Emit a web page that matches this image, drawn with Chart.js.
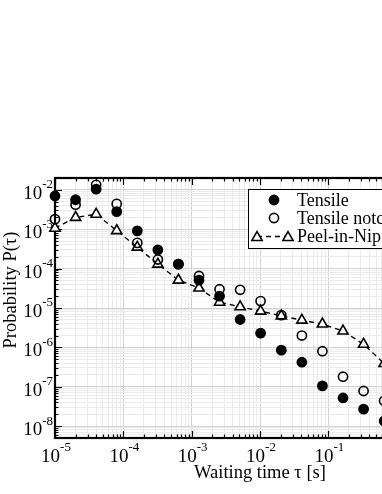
<!DOCTYPE html>
<html>
<head>
<meta charset="utf-8">
<script src="https://cdn.jsdelivr.net/npm/chart.js@4.4.0/dist/chart.umd.min.js"></script>
<style>
  html, body { margin: 0; padding: 0; overflow: hidden; background: #fff; width: 382px; height: 494px; }
  canvas { display: block; }
</style>
</head>
<body>
<canvas id="chart" width="480" height="494"></canvas>
<script>
// waiting time tau [s]
const waitingTimes = [1e-5, 2e-5, 4e-5, 8e-5, 1.6e-4, 3.2e-4, 6.4e-4, 1.28e-3, 2.56e-3, 5.12e-3, 1.02e-2, 2.05e-2, 4.1e-2, 8.19e-2, 0.164, 0.328, 0.655];
// probability P(tau)
const tensile = [7.0e-3, 5.6e-3, 1.04e-2, 2.8e-3, 9.1e-4, 3.0e-4, 1.3e-4, 5.1e-5, 2.0e-5, 5.1e-6, 2.3e-6, 8.5e-7, 4.2e-7, 1.05e-7, 5.2e-8, 2.7e-8, 1.35e-8];
const tensileNotched = [1.8e-3, 4.2e-3, 1.34e-2, 4.4e-3, 4.5e-4, 1.7e-4, 1.3e-4, 6.5e-5, 3.0e-5, 2.9e-5, 1.5e-5, 6.6e-6, 2.0e-6, 8.0e-7, 1.8e-7, 7.8e-8, 4.4e-8];
const peelInNip = [1.06e-3, 2.0e-3, 2.4e-3, 9.2e-4, 3.5e-4, 1.3e-4, 5.1e-5, 3.2e-5, 1.4e-5, 1.07e-5, 8.3e-6, 6.3e-6, 4.9e-6, 3.9e-6, 2.6e-6, 1.2e-6, 3.9e-7];
const seriesLabels = ['Tensile', 'Tensile notched', 'Peel-in-Nip'];
const xTickExponents = [-5, -4, -3, -2, -1, 0, 1];
const yTickExponents = [-8, -7, -6, -5, -4, -3, -2];

const FONT = '"Liberation Serif", "Times New Roman", serif';

const toPoints = (ys) => waitingTimes.map((t, i) => ({ x: t, y: ys[i] }));

const isDecade = (v) => {
  const l = Math.log10(v);
  return Math.abs(l - Math.round(l)) < 1e-6;
};

// 1..9 x 10^e between min and max, used for grid lines and minor ticks
function logTicks(scale) {
  const out = [];
  const lo = Math.floor(Math.log10(scale.min));
  const hi = Math.ceil(Math.log10(scale.max));
  for (let e = lo; e <= hi; e++) {
    for (let m = 1; m <= 9; m++) {
      const v = m * Math.pow(10, e);
      if (v >= scale.min * 0.999 && v <= scale.max * 1.001) out.push({ value: v });
    }
  }
  scale.ticks = out;
}

function gridColor(c) {
  if (!c.tick) return '#eeeeee';
  return isDecade(c.tick.value) ? '#d2d2d2' : '#ebebeb';
}

function drawPow(ctx, exp, x, y, align) {
  const base = '10';
  const supText = exp < 0 ? '-' + Math.abs(exp) : String(exp);
  ctx.font = '19px ' + FONT;
  const wb = ctx.measureText(base).width;
  ctx.font = '13px ' + FONT;
  const ws = ctx.measureText(supText).width;
  const left = align === 'right' ? x - wb - ws : x - (wb + ws) / 2;
  ctx.textAlign = 'left';
  ctx.textBaseline = 'middle';
  ctx.font = '19px ' + FONT;
  ctx.fillText(base, left, y + 4);
  ctx.font = '13px ' + FONT;
  ctx.fillText(supText, left + wb, y - 5);
}

function drawTri(ctx, x, y, r) {
  ctx.beginPath();
  for (let k = 0; k < 3; k++) {
    const a = k * 2 * Math.PI / 3;
    const px = x + Math.sin(a) * r, py = y - Math.cos(a) * r;
    if (k === 0) ctx.moveTo(px, py); else ctx.lineTo(px, py);
  }
  ctx.closePath();
  ctx.fill();
  ctx.stroke();
}

const frame = {
  id: 'frame',
  beforeDatasetsDraw(chart) {
    const { ctx, chartArea: a, scales: { x, y } } = chart;
    ctx.save();
    ctx.strokeStyle = '#000';
    ctx.lineWidth = 1.2;
    ctx.beginPath();
    x.ticks.forEach(t => {
      const px = Math.round(x.getPixelForValue(t.value)) + 0.5;
      const len = isDecade(t.value) ? 7 : 3.5;
      ctx.moveTo(px, a.bottom); ctx.lineTo(px, a.bottom - len);
      ctx.moveTo(px, a.top); ctx.lineTo(px, a.top + len);
    });
    y.ticks.forEach(t => {
      const py = Math.round(y.getPixelForValue(t.value)) + 0.5;
      const len = isDecade(t.value) ? 7 : 3.5;
      ctx.moveTo(a.left, py); ctx.lineTo(a.left + len, py);
      ctx.moveTo(a.right, py); ctx.lineTo(a.right - len, py);
    });
    ctx.stroke();
    ctx.lineWidth = 2.2;
    ctx.strokeRect(a.left, a.top, a.right - a.left, a.bottom - a.top);
    ctx.restore();
  },
  afterDraw(chart) {
    const { ctx, chartArea: a, scales: { x, y } } = chart;
    ctx.save();
    ctx.fillStyle = '#000';
    xTickExponents.forEach(e => {
      drawPow(ctx, e, x.getPixelForValue(Math.pow(10, e)) + 1, a.bottom + 15, 'center');
    });
    yTickExponents.forEach(e => {
      drawPow(ctx, e, a.left - 2, y.getPixelForValue(Math.pow(10, e)), 'right');
    });

    // axis titles
    ctx.font = '18.5px ' + FONT;
    ctx.textAlign = 'center';
    ctx.textBaseline = 'middle';
    ctx.fillText('Waiting time \u03c4 [s]', (a.left + a.right) / 2, 473);
    ctx.save();
    ctx.translate(11, 290);
    ctx.rotate(-Math.PI / 2);
    ctx.fillText('Probability P(\u03c4)', 0, 0);
    ctx.restore();

    // legend box inside the plot
    const bx = 248, by = 189, bw = 210, bh = 59;
    ctx.fillStyle = '#fff';
    ctx.fillRect(bx, by, bw, bh);
    ctx.strokeStyle = '#000';
    ctx.lineWidth = 1;
    ctx.strokeRect(bx + 0.5, by + 0.5, bw, bh);
    const rows = [200, 218, 236.5];
    ctx.lineWidth = 1.6;
    ctx.fillStyle = '#000';
    ctx.beginPath(); ctx.arc(274, rows[0], 4.6, 0, Math.PI * 2); ctx.fill(); ctx.stroke();
    ctx.beginPath(); ctx.arc(274, rows[1], 4.6, 0, Math.PI * 2); ctx.stroke();
    ctx.setLineDash([5, 4]);
    ctx.beginPath(); ctx.moveTo(257, rows[2]); ctx.lineTo(288, rows[2]); ctx.stroke();
    ctx.setLineDash([]);
    ctx.fillStyle = '#fff';
    drawTri(ctx, 257, rows[2] + 1, 5.9);
    drawTri(ctx, 288, rows[2] + 1, 5.9);
    ctx.fillStyle = '#000';
    ctx.font = '18px ' + FONT;
    ctx.textAlign = 'left';
    ctx.textBaseline = 'middle';
    seriesLabels.forEach((s, i) => ctx.fillText(s, 297, rows[i] + 1));
    ctx.restore();
  }
};

new Chart(document.getElementById('chart'), {
  type: 'scatter',
  data: {
    datasets: [
      {
        label: seriesLabels[0],
        data: toPoints(tensile),
        pointStyle: 'circle',
        pointRadius: 4.6,
        pointBackgroundColor: '#000',
        pointBorderColor: '#000',
        pointBorderWidth: 1.6,
        showLine: false,
        clip: false
      },
      {
        label: seriesLabels[1],
        data: toPoints(tensileNotched),
        pointStyle: 'circle',
        pointRadius: 4.6,
        pointBackgroundColor: 'rgba(0,0,0,0)',
        pointBorderColor: '#000',
        pointBorderWidth: 1.6,
        showLine: false,
        clip: false
      },
      {
        label: seriesLabels[2],
        data: toPoints(peelInNip),
        pointStyle: 'triangle',
        pointRadius: 5.9,
        pointBackgroundColor: '#fff',
        pointBorderColor: '#000',
        pointBorderWidth: 1.6,
        showLine: true,
        borderColor: '#000',
        borderWidth: 1.4,
        borderDash: [5, 4],
        tension: 0,
        clip: false
      }
    ]
  },
  options: {
    responsive: false,
    animation: false,
    devicePixelRatio: 1,
    layout: { padding: { left: 55, top: 178, right: 15, bottom: 56 } },
    plugins: {
      legend: { display: false },
      tooltip: { enabled: false }
    },
    scales: {
      x: {
        type: 'logarithmic',
        min: 1e-5,
        max: 10,
        afterBuildTicks: logTicks,
        afterFit: (s) => { s.height = 0; },
        ticks: { display: false },
        border: { display: false },
        grid: { color: gridColor, lineWidth: 1, drawTicks: false }
      },
      y: {
        type: 'logarithmic',
        min: 5e-9,
        max: 2e-2,
        afterBuildTicks: logTicks,
        afterFit: (s) => { s.width = 0; },
        ticks: { display: false },
        border: { display: false },
        grid: { color: gridColor, lineWidth: 1, drawTicks: false }
      }
    }
  },
  plugins: [frame]
});
</script>
</body>
</html>
